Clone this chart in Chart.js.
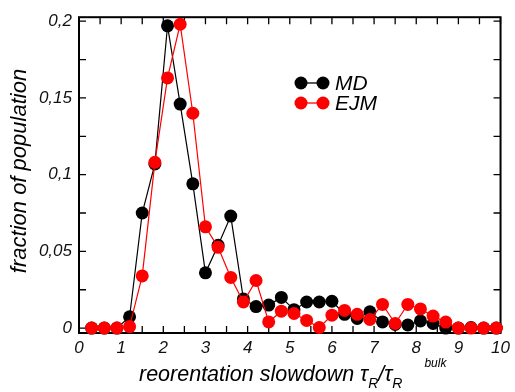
<!DOCTYPE html>
<html>
<head>
<meta charset="utf-8">
<script src="https://cdn.jsdelivr.net/npm/chart.js@4.4.1/dist/chart.umd.min.js"></script>
<style>
  html, body { margin: 0; padding: 0; background: #fff; }
  #wrap { width: 515px; height: 392px; }
</style>
</head>
<body>
<div id="wrap"><canvas id="myChart" width="515" height="392"></canvas></div>
<script>
const slowdown = [0.3, 0.6, 0.9, 1.2, 1.5, 1.8, 2.1, 2.4, 2.7, 3.0, 3.3, 3.6, 3.9, 4.2, 4.5, 4.8, 5.1,
  5.4, 5.7, 6.0, 6.3, 6.6, 6.9, 7.2, 7.5, 7.8, 8.1, 8.4, 8.7, 9.0, 9.3, 9.6, 9.9];

const mdValues = [0, 0, 0, 0.0074, 0.075, 0.107, 0.197, 0.146, 0.094, 0.036, 0.054, 0.073, 0.019,
  0.014, 0.015, 0.020, 0.012, 0.017, 0.017, 0.0175, 0.009, 0.0063, 0.0106, 0.004, 0.0024, 0.002,
  0.0047, 0.003, 0, 0, 0.0004, 0, 0];

const ejmValues = [0, 0, 0, 0.001, 0.034, 0.108, 0.163, 0.198, 0.140, 0.066, 0.0526, 0.033, 0.017,
  0.031, 0.004, 0.011, 0.0095, 0.005, 0.0004, 0.0084, 0.0115, 0.009, 0.0056, 0.0154, 0.003, 0.0154,
  0.0125, 0.0078, 0.0039, 0, 0, 0, 0];

const xTicks = [0, 1, 2, 3, 4, 5, 6, 7, 8, 9, 10];
const xTickLabels = ['0', '1', '2', '3', '4', '5', '6', '7', '8', '9', '10'];
const yTicks = [0, 0.05, 0.1, 0.15, 0.2];
const yTickLabels = ['0', '0,05', '0,1', '0,15', '0,2'];
const xMinorStep = 0.5;
const yMinorStep = 0.025;

const family = '"Liberation Sans", Arial, sans-serif';

const toPoints = (vals) => slowdown.map((x, i) => ({ x: x, y: vals[i] }));

// box round the plot with inward ticks on all four sides
const framePlugin = {
  id: 'frame',
  beforeDatasetsDraw(chart) {
    const { ctx, chartArea: a, scales: { x, y } } = chart;
    const len = 7;
    ctx.save();
    ctx.strokeStyle = '#000';
    ctx.lineWidth = 1.3;
    ctx.beginPath();
    for (let v = 0; v <= 10.0001; v += xMinorStep) {
      const px = x.getPixelForValue(v);
      ctx.moveTo(px, a.bottom); ctx.lineTo(px, a.bottom - len);
      ctx.moveTo(px, a.top); ctx.lineTo(px, a.top + len);
    }
    for (let v = 0; v <= 0.2001; v += yMinorStep) {
      const py = y.getPixelForValue(v);
      ctx.moveTo(a.left, py); ctx.lineTo(a.left + len, py);
      ctx.moveTo(a.right, py); ctx.lineTo(a.right - len, py);
    }
    ctx.stroke();
    ctx.lineWidth = 2;
    ctx.strokeRect(a.left, a.top, a.right - a.left, a.bottom - a.top);
    ctx.restore();
  }
};

// legend, axis titles
const labelsPlugin = {
  id: 'labels',
  afterDraw(chart) {
    const { ctx } = chart;
    ctx.save();
    ctx.fillStyle = '#000';

    // legend
    const rows = [
      { label: 'MD', color: '#000', y: 83 },
      { label: 'EJM', color: '#ff0000', y: 103 }
    ];
    rows.forEach(r => {
      ctx.strokeStyle = r.color;
      ctx.fillStyle = r.color;
      ctx.lineWidth = 1.3;
      ctx.beginPath();
      ctx.moveTo(301, r.y); ctx.lineTo(323, r.y);
      ctx.stroke();
      [301, 323].forEach(cx => {
        ctx.beginPath();
        ctx.arc(cx, r.y, 6.5, 0, Math.PI * 2);
        ctx.fill();
      });
      ctx.fillStyle = '#000';
      ctx.font = 'italic 21px ' + family;
      ctx.textBaseline = 'middle';
      ctx.textAlign = 'left';
      ctx.fillText(r.label, 335, r.y + 1);
    });

    // y title
    ctx.save();
    ctx.translate(26, 171);
    ctx.rotate(-Math.PI / 2);
    ctx.font = 'italic 22px ' + family;
    ctx.textAlign = 'center';
    ctx.textBaseline = 'alphabetic';
    ctx.fillText('fraction of population', 0, 0);
    ctx.restore();

    // x title with sub/superscripts
    const big = 'italic 21.5px ' + family;
    const small = 'italic 14px ' + family;
    const sup = 'italic 12px ' + family;
    const base = 381;
    let cx = 139;
    ctx.textAlign = 'left';
    ctx.textBaseline = 'alphabetic';
    const put = (txt, font, dy) => {
      ctx.font = font;
      ctx.fillText(txt, cx, base + dy);
      cx += ctx.measureText(txt).width;
    };
    put('reorentation slowdown \u03c4', big, 0);
    put('R', small, 7);
    put('/\u03c4', big, 0);
    put('R', small, 7);
    cx += 22;
    put('bulk', sup, -14);
    ctx.restore();
  }
};

const config = {
  type: 'line',
  data: {
    datasets: [{
      label: 'EJM',
      data: toPoints(ejmValues),
      borderColor: '#ff0000',
      backgroundColor: '#ff0000',
      borderWidth: 1.2,
      pointRadius: 6.5,
      pointBorderWidth: 0,
      clip: false
    }, {
      label: 'MD',
      data: toPoints(mdValues),
      borderColor: '#000000',
      backgroundColor: '#000000',
      borderWidth: 1.2,
      pointRadius: 6.5,
      pointBorderWidth: 0,
      clip: false
    }]
  },
  options: {
    responsive: false,
    animation: false,
    devicePixelRatio: 1,
    layout: { padding: { top: 16, right: 12, left: 0, bottom: 0 } },
    plugins: {
      legend: { display: false },
      tooltip: { enabled: false }
    },
    scales: {
      x: {
        type: 'linear',
        min: 0,
        max: 10,
        grid: { display: false, drawTicks: false },
        border: { display: false },
        afterBuildTicks: s => { s.ticks = xTicks.map(v => ({ value: v })); },
        afterFit: s => { s.height = 59; },
        ticks: {
          font: { family: family, size: 17, style: 'italic' },
          color: '#111',
          padding: 5,
          maxRotation: 0,
          autoSkip: false,
          callback: (v, i) => xTickLabels[i]
        }
      },
      y: {
        type: 'linear',
        min: -0.0032,
        max: 0.2026,
        grid: { display: false, drawTicks: false },
        border: { display: false },
        afterBuildTicks: s => { s.ticks = yTicks.map(v => ({ value: v })); },
        afterFit: s => { s.width = 79; },
        ticks: {
          font: { family: family, size: 17, style: 'italic' },
          color: '#111',
          padding: 7,
          autoSkip: false,
          callback: (v, i) => yTickLabels[i]
        }
      }
    }
  },
  plugins: [framePlugin, labelsPlugin]
};

const myChart = new Chart(document.getElementById('myChart'), config);
</script>
</body>
</html>
